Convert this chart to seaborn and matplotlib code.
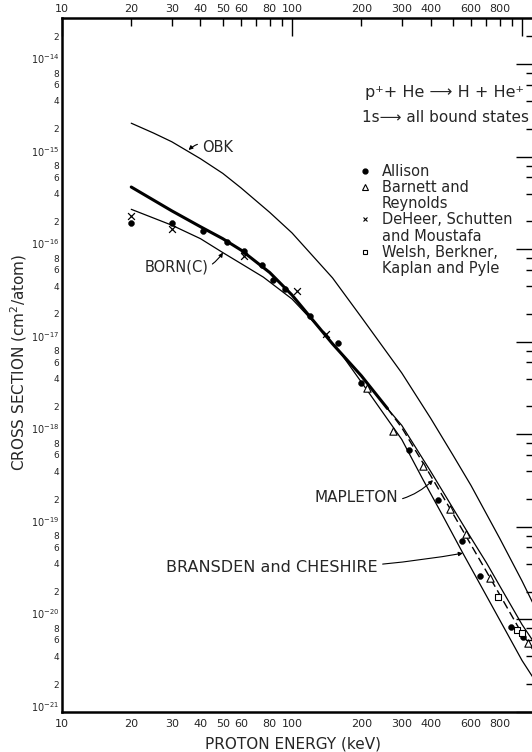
import matplotlib
matplotlib.use("Agg")
import matplotlib.pyplot as plt
import seaborn as sns
import pandas as pd
from matplotlib.lines import Line2D
from matplotlib.ticker import FixedLocator, FixedFormatter

# ---------------- data ----------------
OBK_E = [20, 25, 30, 40, 50, 60, 80, 100, 150, 200, 300, 400, 500, 600, 800, 1000, 1130]
OBK_S = [2.3e-15, 1.8e-15, 1.45e-15, 9.5e-16, 6.6e-16, 4.6e-16, 2.5e-16, 1.5e-16,
         4.9e-17, 1.85e-17, 4.6e-18, 1.5e-18, 6.0e-19, 2.8e-19, 7.5e-20, 2.6e-20, 1.4e-20]

BORN_E = [20, 30, 40, 50, 60, 75, 100, 130]
BORN_S = [2.7e-16, 1.82e-16, 1.3e-16, 9.2e-17, 7.0e-17, 5.0e-17, 2.9e-17, 1.45e-17]

THICK_E = [20, 30, 40, 50, 60, 80, 100, 150, 200, 260]
THICK_S = [4.7e-16, 2.6e-16, 1.75e-16, 1.3e-16, 9.8e-17, 5.6e-17, 3.2e-17, 9.5e-18, 4.3e-18, 1.9e-18]

MAPLETON_E = [260, 300, 400, 500, 600, 700, 800, 1000, 1130]
MAPLETON_S = [1.9e-18, 1.25e-18, 4.0e-19, 1.6e-19, 7.6e-20, 4.1e-20, 2.3e-20, 8.8e-21, 5.6e-21]

DASHED_E = [260, 300, 400, 500, 600, 700, 800, 1000, 1130]
DASHED_S = [1.9e-18, 1.18e-18, 3.6e-19, 1.4e-19, 6.4e-20, 3.3e-20, 1.85e-20, 7.0e-21, 4.5e-21]

BC_E = [130, 160, 212, 300, 372, 450, 553, 700, 850, 1000, 1130]
BC_S = [1.45e-17, 8.0e-18, 3.0e-18, 8.8e-19, 3.2e-19, 1.35e-19, 5.2e-20, 1.8e-20, 7.5e-21, 3.6e-21, 2.25e-21]

ALLISON_E = [20, 30, 41, 52, 62, 74, 83, 93, 120, 158, 200, 324, 433, 547, 656, 789, 893, 1014]
ALLISON_S = [1.94e-16, 1.9e-16, 1.57e-16, 1.19e-16, 9.5e-17, 6.7e-17, 4.7e-17, 3.7e-17,
             1.9e-17, 9.7e-18, 3.6e-18, 6.8e-19, 1.94e-19, 7.1e-20, 2.95e-20, 1.74e-20, 8.2e-21, 6.5e-21]

BARNETT_E = [211, 276, 370, 486, 571, 727, 1060]
BARNETT_S = [3.2e-18, 1.1e-18, 4.6e-19, 1.58e-19, 8.4e-20, 2.8e-20, 5.5e-21]

DEHEER_E = [20, 30, 62, 105, 140]
DEHEER_S = [2.3e-16, 1.66e-16, 8.5e-17, 3.5e-17, 1.2e-17]

WELSH_E = [789, 948, 1000]
WELSH_S = [1.74e-20, 7.7e-21, 7.2e-21]

X_MAJOR = [10, 100, 1000]
X_MAJOR_LABELS = ["10", "100", ""]
X_MINOR = [20, 30, 40, 50, 60, 70, 80, 90, 200, 300, 400, 500, 600, 700, 800, 900]
X_MINOR_LABELS = ["20", "30", "40", "50", "60", "", "80", "", "200", "300", "400", "", "600", "", "800", ""]
Y_EXPONENTS = [-21, -20, -19, -18, -17, -16, -15, -14]
Y_MINOR_MANTISSAS = [2, 4, 6, 8]

# ---------------- figure ----------------
sns.set_style("white")
plt.rcParams['font.family'] = ['DejaVu Sans']
plt.rcParams['mathtext.fontset'] = 'dejavusans'

W, H = 532, 752
fig = plt.figure(figsize=(W / 100, H / 100), dpi=100)
ax = fig.add_axes([62 / W, 40 / H, 472 / W, 694 / H])
ax.set_xscale('log')
ax.set_yscale('log')
ax.set_xlim(10, 1127)
ax.set_ylim(1e-21, 3.15e-14)

def line(E, S, **kw):
    df = pd.DataFrame({"E": E, "S": S})
    sns.lineplot(data=df, x="E", y="S", ax=ax, color="black", sort=False,
                 estimator=None, legend=False, **kw)

line(OBK_E, OBK_S, lw=0.9)
line(BORN_E, BORN_S, lw=0.9)
line(THICK_E, THICK_S, lw=2.2)
line(MAPLETON_E, MAPLETON_S, lw=0.9)
line(DASHED_E, DASHED_S, lw=1.0, linestyle=(0, (6, 3)))
line(BC_E, BC_S, lw=0.9)

def pts(E, S, label, **kw):
    df = pd.DataFrame({"E": E, "S": S})
    sns.scatterplot(data=df, x="E", y="S", ax=ax, label=label, legend=False, zorder=5, **kw)

pts(ALLISON_E, ALLISON_S, "Allison", marker="o", s=18, color="black", edgecolor="black")
pts(BARNETT_E, BARNETT_S, "Barnett", marker="^", s=28, facecolor="white", edgecolor="black", linewidth=0.8)
pts(DEHEER_E, DEHEER_S, "DeHeer", marker="x", s=24, color="black", linewidth=0.9)
pts(WELSH_E, WELSH_S, "Welsh", marker="s", s=18, facecolor="white", edgecolor="black", linewidth=0.8)

# ---------------- axes / ticks ----------------
for sp in ax.spines.values():
    sp.set_linewidth(1.8)
    sp.set_color("black")

def set_xticks(axis_obj):
    axis_obj.xaxis.set_major_locator(FixedLocator(X_MAJOR))
    axis_obj.xaxis.set_major_formatter(FixedFormatter(X_MAJOR_LABELS))
    axis_obj.xaxis.set_minor_locator(FixedLocator(X_MINOR))
    axis_obj.xaxis.set_minor_formatter(FixedFormatter(X_MINOR_LABELS))

set_xticks(ax)

y_major = [10.0 ** e for e in Y_EXPONENTS]
y_major_labels = [r"$10^{%d}$" % e for e in Y_EXPONENTS]
y_minor, y_minor_labels = [], []
for e in Y_EXPONENTS:
    for m in Y_MINOR_MANTISSAS:
        v = m * 10.0 ** e
        if v < 3.1e-14:
            y_minor.append(v)
            y_minor_labels.append(str(m))
ax.yaxis.set_major_locator(FixedLocator(y_major))
ax.yaxis.set_major_formatter(FixedFormatter(y_major_labels))
ax.yaxis.set_minor_locator(FixedLocator(y_minor))
ax.yaxis.set_minor_formatter(FixedFormatter(y_minor_labels))

ax.tick_params(which="both", direction="in", top=True, right=True, labeltop=False,
               labelbottom=True, labelleft=True, labelright=False, color="black", width=1.0)
ax.tick_params(which="major", length=13)
ax.tick_params(which="minor", length=6)
ax.tick_params(axis="x", which="both", labelsize=8, pad=5)
ax.tick_params(axis="y", which="minor", labelsize=6.5, pad=2)
ax.tick_params(axis="y", which="major", labelsize=7, pad=2)
for t in ax.yaxis.get_major_ticks():
    t.label1.set_verticalalignment("baseline")

# top labels (closer to the frame than the bottom ones)
top = ax.secondary_xaxis("top")
set_xticks(top)
top.tick_params(which="both", length=0, labelsize=8, pad=3)
top.spines["top"].set_visible(False)

ax.set_xlabel("")
ax.set_ylabel("")
fig.text(19 / W, 1 - 362 / H, "CROSS SECTION (cm$^2$/atom)", rotation=90,
         ha="center", va="center", fontsize=11)
fig.text(293 / W, 1 - 744 / H, "PROTON ENERGY (keV)", ha="center", va="center", fontsize=11)

# ---------------- text / legend ----------------
fig.text(365 / W, 1 - 93 / H, "p\u207a+ He \u27f6 H + He\u207a", ha="left", va="center", fontsize=11.5)
fig.text(362 / W, 1 - 118 / H, "1s\u27f6 all bound states", ha="left", va="center", fontsize=11)

blank = Line2D([], [], linestyle="none", marker=None)
handles = [
    Line2D([], [], linestyle="none", marker="o", markersize=3.5, color="black"),
    Line2D([], [], linestyle="none", marker="^", markersize=4, markerfacecolor="white",
           markeredgecolor="black", markeredgewidth=0.8),
    blank,
    Line2D([], [], linestyle="none", marker="x", markersize=3.5, color="black", markeredgewidth=0.8),
    blank,
    Line2D([], [], linestyle="none", marker="s", markersize=3.5, markerfacecolor="white",
           markeredgecolor="black", markeredgewidth=0.8),
    blank,
]
labels = ["Allison", "Barnett and", "Reynolds", "DeHeer, Schutten", "and Moustafa",
          "Welsh, Berkner,", "Kaplan and Pyle"]
leg = ax.legend(handles, labels, loc="upper left", bbox_to_anchor=(359 / W, 1 - 164 / H),
                bbox_transform=fig.transFigure, frameon=False, fontsize=10.5,
                handlelength=0.8, handletextpad=0.75, labelspacing=0.08, borderpad=0,
                borderaxespad=0)

arrow = dict(arrowstyle="-|>", color="black", lw=0.8, mutation_scale=6, shrinkA=1, shrinkB=0)
ax.annotate("OBK", xy=(35.5, 1.18e-15), xycoords="data", xytext=(202, H - 148),
            textcoords="figure pixels", ha="left", va="center", fontsize=10.5,
            arrowprops=dict(arrow, connectionstyle="arc3,rad=0.4"))
ax.annotate("BORN(C)", xy=(50.1, 9.2e-17), xycoords="data", xytext=(208, H - 267),
            textcoords="figure pixels", ha="right", va="center", fontsize=10.5,
            arrowprops=dict(arrow, connectionstyle="arc3,rad=0.4"))
ax.annotate("MAPLETON", xy=(410, 3.2e-19), xycoords="data", xytext=(398, H - 497),
            textcoords="figure pixels", ha="right", va="center", fontsize=11,
            arrowprops=dict(arrow, connectionstyle="arc3,rad=0.3"))
ax.annotate("BRANSDEN and CHESHIRE", xy=(553, 5.2e-20), xycoords="data", xytext=(378, H - 568),
            textcoords="figure pixels", ha="right", va="center", fontsize=11.5,
            arrowprops=dict(arrow, connectionstyle="arc3,rad=0.05"))

fig.savefig("out.png", dpi=100)
